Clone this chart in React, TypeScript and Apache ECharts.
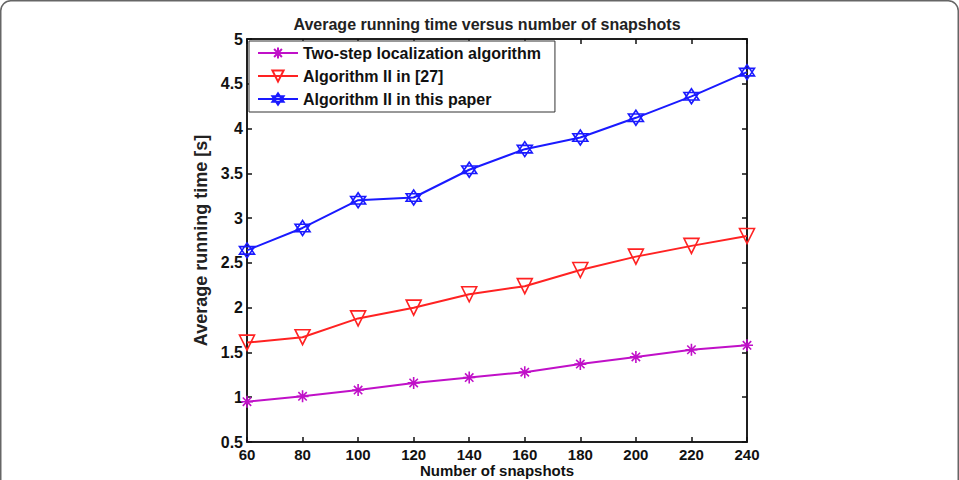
import React, { useEffect, useRef } from "react";
import * as echarts from "echarts";

const snapshots = [60, 80, 100, 120, 140, 160, 180, 200, 220, 240];
const twoStep = [0.95, 1.01, 1.08, 1.16, 1.22, 1.28, 1.37, 1.45, 1.53, 1.58];
const alg27 = [1.61, 1.67, 1.88, 2.0, 2.15, 2.24, 2.42, 2.57, 2.69, 2.8];
const algThis = [2.64, 2.89, 3.2, 3.23, 3.54, 3.77, 3.9, 4.12, 4.36, 4.63];
const seriesNames = [
  "Two-step localization algorithm",
  "Algorithm II in [27]",
  "Algorithm II in this paper",
];

const ASTERISK = "path://M5 0 L5 10 M0 5 L10 5 M1.5 1.5 L8.5 8.5 M8.5 1.5 L1.5 8.5";
const TRI_DOWN = "path://M0 0 L10 0 L5 9 Z";
const HEXAGRAM = "path://M5 0 L9.33 7.5 L0.67 7.5 Z M5 10 L0.67 2.5 L9.33 2.5 Z";

const FONT = "'Liberation Sans', Arial, sans-serif";

export default function App() {
  const ref = useRef<HTMLDivElement>(null);
  useEffect(() => {
    if (!ref.current) return;
    const chart = echarts.init(ref.current, undefined, { renderer: "svg" });
    const mk = (data: number[]) => data.map((v, i) => [snapshots[i], v]);
    const lineSeries = (name: string, data: number[], color: string, symbol: string, size: number) => ({
      name,
      type: "line",
      data: mk(data),
      symbol,
      symbolSize: size,
      showAllSymbol: true,
      lineStyle: { color, width: 2 },
      itemStyle: { color: "rgba(255,255,255,0)", borderColor: color, borderWidth: 1.6 },
      emphasis: { disabled: true },
      z: 3,
    });
    const axisLabelStyle = { fontFamily: FONT, fontWeight: "bold", fontSize: 16, color: "#111" };
    chart.setOption({
      animation: false,
      backgroundColor: "#fff",
      title: {
        text: "Average running time versus number of snapshots",
        left: 482,
        top: 11,
        textAlign: "center",
        textStyle: { fontFamily: FONT, fontWeight: "bold", fontSize: 16, color: "#222" },
      },
      graphic: [
        {
          type: "rect",
          shape: { x: 0.75, y: 0.75, width: 957.5, height: 520, r: [10, 10, 0, 0] },
          style: { fill: "none", stroke: "#666", lineWidth: 1.5 },
          silent: true,
          z: 10,
        },
      ],
      legend: {
        orient: "vertical",
        left: 249,
        top: 41,
        data: seriesNames,
        backgroundColor: "#fff",
        borderColor: "#333",
        borderWidth: 1,
        padding: [4, 14, 5, 8],
        itemWidth: 40,
        itemHeight: 14,
        itemGap: 7,
        textStyle: { fontFamily: FONT, fontWeight: "bold", fontSize: 16, color: "#111" },
        z: 5,
      },
      grid: {
        left: 247,
        right: 212,
        top: 39,
        bottom: 38,
        outerBoundsMode: "none",
        containLabel: false,
        show: true,
        borderColor: "#111",
        borderWidth: 1.5,
        backgroundColor: "#fff",
      },
      xAxis: [
        {
          type: "value",
          min: 60,
          max: 240,
          interval: 20,
          name: "Number of snapshots",
          nameLocation: "middle",
          nameGap: 21,
          nameMoveOverlap: false,
          nameTextStyle: { fontFamily: FONT, fontWeight: "bold", fontSize: 15, color: "#111", verticalAlign: "top" },
          axisLine: { show: true, lineStyle: { color: "#111", width: 1.5 } },
          axisTick: { inside: true, length: 5, lineStyle: { color: "#111", width: 1.5 } },
          axisLabel: { ...axisLabelStyle, fontSize: 15, margin: 5 },
          splitLine: { show: false },
        },
        {
          type: "value",
          position: "top",
          min: 60,
          max: 240,
          interval: 20,
          axisLine: { show: true, lineStyle: { color: "#111", width: 1.5 } },
          axisTick: { inside: true, length: 5, lineStyle: { color: "#111", width: 1.5 } },
          axisLabel: { show: false },
          splitLine: { show: false },
        },
      ],
      yAxis: [
        {
          type: "value",
          min: 0.5,
          max: 5,
          interval: 0.5,
          name: "Average running time [s]",
          nameLocation: "middle",
          nameGap: 33,
          nameTextStyle: { fontFamily: FONT, fontWeight: "bold", fontSize: 18, color: "#222" },
          axisLine: { show: true, lineStyle: { color: "#111", width: 1.5 } },
          axisTick: { inside: true, length: 5, lineStyle: { color: "#111", width: 1.5 } },
          axisLabel: { ...axisLabelStyle, margin: 4 },
          splitLine: { show: false },
        },
        {
          type: "value",
          position: "right",
          min: 0.5,
          max: 5,
          interval: 0.5,
          axisLine: { show: true, lineStyle: { color: "#111", width: 1.5 } },
          axisTick: { inside: true, length: 5, lineStyle: { color: "#111", width: 1.5 } },
          axisLabel: { show: false },
          splitLine: { show: false },
        },
      ],
      series: [
        lineSeries(seriesNames[0], twoStep, "#c010c8", ASTERISK, 12),
        lineSeries(seriesNames[1], alg27, "#ff2222", TRI_DOWN, 15),
        lineSeries(seriesNames[2], algThis, "#1a1aff", HEXAGRAM, 15),
      ],
    });
    return () => chart.dispose();
  }, []);
  return (
    <div
      ref={ref}
      style={{ position: "fixed", left: 0, top: 0, width: 959, height: 480, background: "#fff" }}
    />
  );
}
